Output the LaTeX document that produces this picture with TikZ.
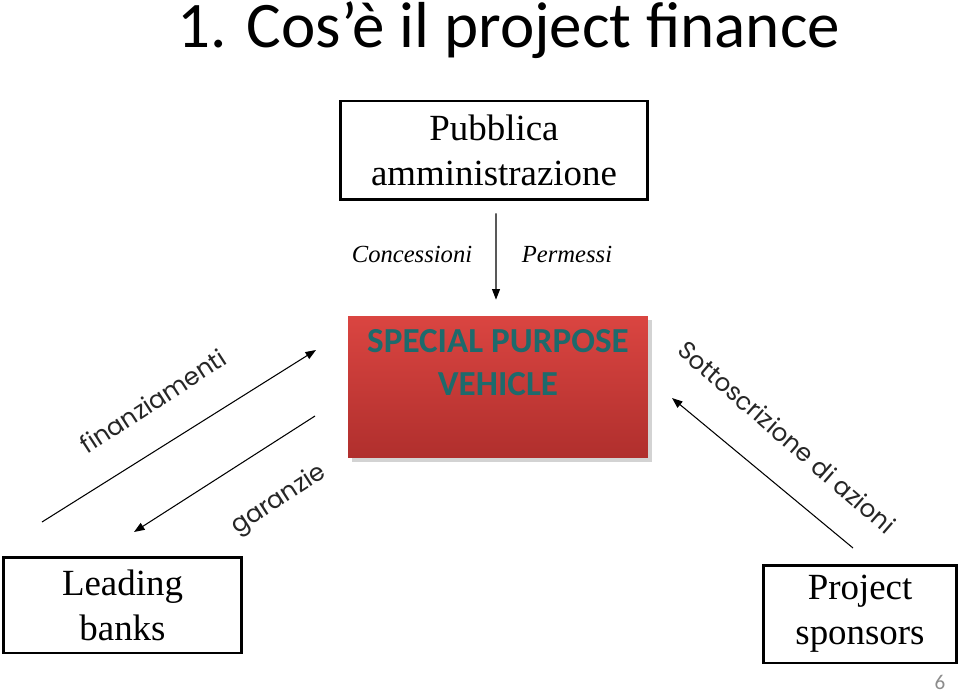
\documentclass[tikz,border=0pt]{standalone}
\usepackage{fontspec}
\setmainfont{Liberation Serif}
\newfontfamily\calibri{Carlito}
\newfontfamily\gothic{Poppins}
\usetikzlibrary{arrows.meta,shadows}
\definecolor{spvTop}{HTML}{DA4541}
\definecolor{spvBot}{HTML}{B02F2D}
\definecolor{spvText}{HTML}{1E6A6C}
\definecolor{pageGray}{HTML}{8C8C8C}

\begin{document}
\begin{tikzpicture}[x=0.02cm,y=-0.02cm,
    box/.style={draw=black, line width=1.7pt, align=center, inner sep=0pt,
      font=\fontsize{21}{25.5}\selectfont},
    flow/.style={-{Triangle[length=6pt,width=4.5pt]}, line width=0.6pt},
    lbl/.style={font=\gothic\fontsize{14}{16}\selectfont, text=black!85}]
  \useasboundingbox (0,0) rectangle (960,692);

  % title
  \node[font=\calibri\fontsize{37}{42}\selectfont, inner sep=0pt] (title) at (509,30) {1. Cos’è il project finance};

  % boxes
  \node[box, minimum width=6.16cm, minimum height=1.98cm] (pa) at (494,150.5)
    {Pubblica\\amministrazione};
  \node[draw=none, minimum width=6.0cm, minimum height=2.84cm, inner sep=0pt,
    top color=spvTop, bottom color=spvBot, drop shadow={opacity=0.35},
    label={[anchor=north, yshift=-0.16cm, align=center, text=spvText,
      font=\calibri\bfseries\fontsize{20}{24}\selectfont]north:SPECIAL PURPOSE\\VEHICLE}]
    (spv) at (498,387) {};
  \node[box, minimum width=4.78cm, minimum height=1.92cm] (banks) at (122.5,605)
    {Leading\\banks};
  \node[box, minimum width=3.88cm, minimum height=1.96cm] (sponsors) at (860,614)
    {Project\\sponsors};

  % pubblica amministrazione -> spv
  \draw[flow] ([xshift=0.04cm,yshift=-0.24cm]pa.south) -- ([xshift=-0.04cm,yshift=0.32cm]spv.north);
  \node[font=\itshape\fontsize{14}{16}\selectfont] (conc) at (412,254) {Concessioni};
  \node[font=\itshape\fontsize{14}{16}\selectfont] (perm) at (567,254) {Permessi};

  % banks <-> spv
  \coordinate (f0) at (42,522);
  \coordinate (f1) at (316,350);
  \coordinate (g0) at (315,416);
  \coordinate (g1) at (134,532);
  \draw[flow] (f0) -- (f1);
  \draw[flow] (g0) -- (g1);
  \node[lbl, rotate=33] (fin) at (153,401) {finanziamenti};
  \node[lbl, rotate=33] (gar) at (279,500) {garanzie};

  % sponsors -> spv
  \coordinate (s0) at (853,548);
  \coordinate (s1) at (672,398);
  \draw[flow] (s0) -- (s1);
  \node[lbl, rotate=-41] (sott) at (787,437) {Sottoscrizione di azioni};

  % page number
  \node[font=\calibri\fontsize{12}{14}\selectfont, text=pageGray] (page) at (940,682) {6};
\end{tikzpicture}
\end{document}
